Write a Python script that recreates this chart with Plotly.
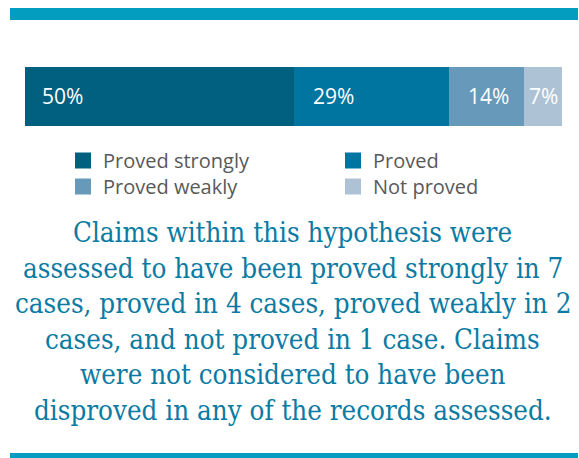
import plotly.graph_objects as go

# Share of claims by assessment outcome (7, 4, 2 and 1 of 14 cases)
categories = ["Proved strongly", "Proved", "Proved weakly", "Not proved"]
shares = [50, 29, 14, 7]
labels = ["50%", "29%", "14%", "7%"]
colors = ["#01607f", "#0075a0", "#6699ba", "#adc2d4"]
label_pad = [15, 17, 17, 3]

summary_lines = [
    "Claims within this hypothesis were",
    "assessed to have been proved strongly in 7",
    "cases, proved in 4 cases, proved weakly in 2",
    "cases, and not proved in 1 case. Claims",
    "were not considered to have been",
    "disproved in any of the records assessed.",
]

W, H = 579, 458
row = "row"

fig = go.Figure()

starts = []
acc = 0
for name, v, c in zip(categories, shares, colors):
    starts.append(acc)
    acc += v
    fig.add_trace(go.Bar(
        y=[row], x=[v], orientation="h", name=name,
        marker=dict(color=c, line=dict(width=0)),
        showlegend=False, hoverinfo="skip",
    ))

# legend swatches laid out as a 2x2 grid, one small legend per cell
legend_ids = ["legend", "legend2", "legend3", "legend4"]
grid_x = [63, 333, 63, 333]
grid_y = [141, 141, 167, 167]
legend_layout = {}
for i, (name, c) in enumerate(zip(categories, colors)):
    fig.add_trace(go.Scatter(
        x=[None], y=[None], mode="markers", name=name,
        marker=dict(symbol="square", size=16, color=c),
        legend=legend_ids[i],
    ))
    legend_layout[legend_ids[i]] = dict(
        x=grid_x[i] / W, y=1 - grid_y[i] / H, xanchor="left", yanchor="top",
        font=dict(family="Open Sans", size=20, color="#595959"),
        bgcolor="rgba(0,0,0,0)", itemclick=False, itemdoubleclick=False,
    )

annotations = []
for s, lab, pad in zip(starts, labels, label_pad):
    annotations.append(dict(
        x=s, y=row, xref="x", yref="y", text=lab, showarrow=False,
        xanchor="left", yanchor="middle", xshift=pad,
        font=dict(family="Open Sans", size=21, color="white"),
    ))

first_baseline = 242
line_step = 35.5
for i, line in enumerate(summary_lines):
    base = first_baseline + i * line_step
    annotations.append(dict(
        x=293 / W, y=1 - (base - 10) / H, xref="paper", yref="paper",
        text=line, showarrow=False, xanchor="center", yanchor="middle",
        font=dict(family="DejaVu Serif Condensed, DejaVu Serif", size=27.5,
                  color="#0b7ba3"),
    ))

shapes = [
    dict(type="rect", xref="paper", yref="paper", x0=10 / W, x1=578 / W,
         y0=1 - 20 / H, y1=1 - 8 / H, fillcolor="#039dc0", line=dict(width=0)),
    dict(type="rect", xref="paper", yref="paper", x0=10 / W, x1=578 / W,
         y0=0, y1=1 - 453 / H, fillcolor="#039dc0", line=dict(width=0)),
]

fig.update_layout(
    width=W, height=H,
    margin=dict(l=0, r=0, t=0, b=0),
    paper_bgcolor="white", plot_bgcolor="white",
    barmode="stack", bargap=0,
    xaxis=dict(domain=[25 / W, 562 / W], range=[0, sum(shares)],
               visible=False, fixedrange=True),
    yaxis=dict(domain=[1 - 126 / H, 1 - 67 / H], range=[-0.5, 0.5],
               visible=False, fixedrange=True),
    annotations=annotations,
    shapes=shapes,
    showlegend=True,
    **legend_layout,
)

fig.write_html("out.html")
